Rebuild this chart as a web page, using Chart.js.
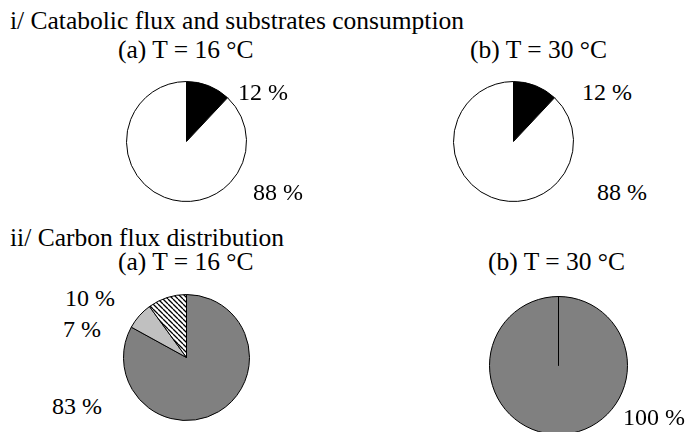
<!DOCTYPE html>
<html lang="en">
<head>
<meta charset="UTF-8">
<title>Catabolic and carbon flux</title>
<script src="https://cdn.jsdelivr.net/npm/chart.js"></script>
<style>
  body { margin: 0; background: #fff; font-family: "Liberation Serif", "Times New Roman", serif; }
  #page { position: relative; width: 686px; height: 432px; overflow: hidden; background: #fff; }
  .txt { position: absolute; font-size: 24px; line-height: 24px; white-space: nowrap; color: #000; }
  .head { font-size: 25.5px; }
  #page canvas { position: absolute; }
</style>
</head>
<body>
<div id="page"></div>
<script>
// catabolic flux vs substrate consumption (%)
const catLabels = ['catabolic flux', 'remaining consumption'];
const cat16 = [12, 88];
const cat30 = [12, 88];

// carbon flux distribution (%)
const carbLabels = ['main flux', 'second flux', 'third flux'];
const carb16 = [83, 7, 10];
const carb30 = [100];

const page = document.getElementById('page');

function addText(str, x, baseline, cls) {
    const d = document.createElement('div');
    d.className = 'txt' + (cls ? ' ' + cls : '');
    d.textContent = str;
    d.style.left = x + 'px';
    d.style.top = (baseline - 20) + 'px';
    page.appendChild(d);
}

// diagonal hatch fill
function hatch() {
    const s = 5;
    const c = document.createElement('canvas');
    c.width = s; c.height = s;
    const g = c.getContext('2d');
    g.fillStyle = '#fff';
    g.fillRect(0, 0, s, s);
    g.strokeStyle = '#000';
    g.lineWidth = 1.3;
    g.beginPath();
    for (const k of [-s, 0, s]) {
        g.moveTo(k, 0);
        g.lineTo(k + s, s);
    }
    g.stroke();
    return g.createPattern(c, 'repeat');
}

// a single full slice still gets its radial edge line
const seamLine = {
    id: 'seamLine',
    afterDatasetsDraw(chart) {
        const ctx = chart.ctx;
        chart.getDatasetMeta(0).data.forEach(arc => {
            const p = arc.getProps(['x', 'y', 'startAngle', 'endAngle', 'outerRadius']);
            if (p.endAngle - p.startAngle < Math.PI * 2 - 1e-6) return;
            ctx.save();
            ctx.strokeStyle = '#000';
            ctx.lineWidth = 1;
            ctx.beginPath();
            ctx.moveTo(p.x, p.y);
            ctx.lineTo(p.x + p.outerRadius * Math.cos(p.startAngle),
                       p.y + p.outerRadius * Math.sin(p.startAngle));
            ctx.stroke();
            ctx.restore();
        });
    }
};

function pie(labels, data, colors, cx, cy, r) {
    const side = 2 * r + 1;
    const cv = document.createElement('canvas');
    cv.width = side; cv.height = side;
    cv.style.left = (cx - side / 2) + 'px';
    cv.style.top = (cy - side / 2) + 'px';
    page.appendChild(cv);
    new Chart(cv, {
        type: 'pie',
        data: {
            labels: labels,
            datasets: [{
                data: data,
                backgroundColor: colors,
                borderColor: '#000',
                borderWidth: 1,
                offset: 0,
                hoverOffset: 0
            }]
        },
        options: {
            responsive: false,
            animation: false,
            events: [],
            layout: { padding: 0 },
            plugins: { legend: { display: false }, tooltip: { enabled: false } }
        },
        plugins: [seamLine]
    });
}

const pct = v => v + ' %';

// i/ catabolic flux
addText('i/ Catabolic flux and substrates consumption', 10, 29, 'head');
addText('(a) T = 16 °C', 118, 58, 'head');
addText('(b) T = 30 °C', 470, 58, 'head');
pie(catLabels, cat16, ['#000', '#fff'], 186, 141, 60);
pie(catLabels, cat30, ['#000', '#fff'], 513, 141, 60);
addText(pct(cat16[0]), 238, 100);
addText(pct(cat16[1]), 253, 200);
addText(pct(cat30[0]), 582, 100);
addText(pct(cat30[1]), 597, 200);

// ii/ carbon flux
addText('ii/ Carbon flux distribution', 10, 246, 'head');
addText('(a) T = 16 °C', 118, 270, 'head');
addText('(b) T = 30 °C', 488, 270, 'head');
pie(carbLabels, carb16, ['#808080', '#c0c0c0', hatch()], 186, 357, 63);
pie(carbLabels.slice(0, 1), carb30, ['#808080'], 558, 365, 69);
addText(pct(carb16[2]), 65, 306);
addText(pct(carb16[1]), 63, 337);
addText(pct(carb16[0]), 52, 414);
addText(pct(carb30[0]), 623, 425);
</script>
</body>
</html>
